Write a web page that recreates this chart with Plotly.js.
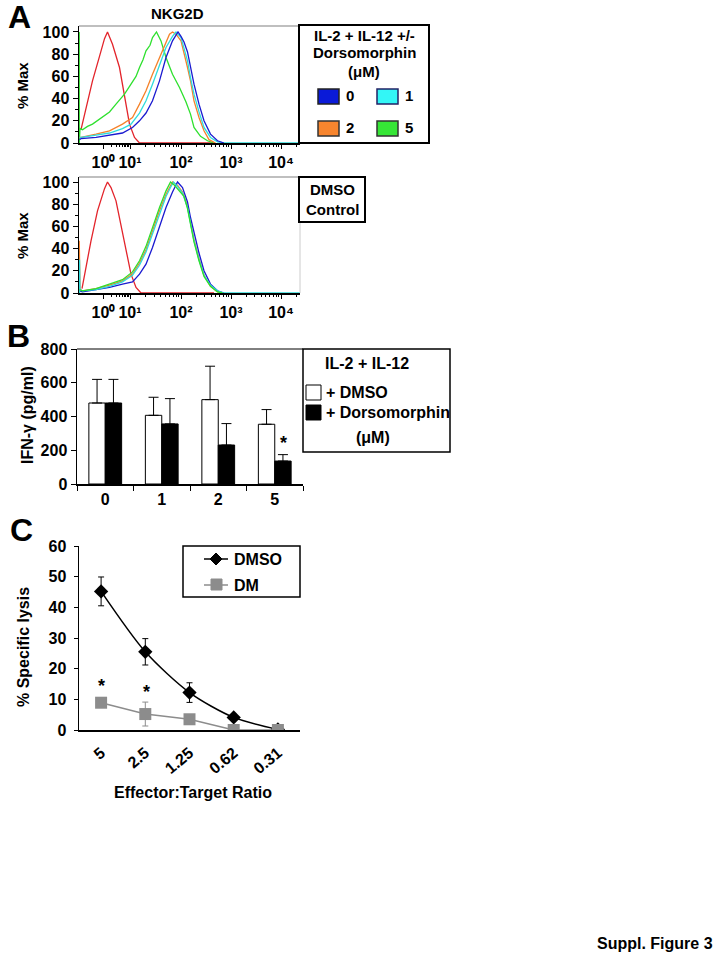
<!DOCTYPE html>
<html>
<head>
<meta charset="utf-8">
<script src="https://cdn.plot.ly/plotly-3.0.1.min.js"></script>
<style>html,body{margin:0;padding:0;background:#fff;}#chart{width:720px;height:960px;}</style>
</head>
<body>
<div id="chart"></div>
<script>
// ---------- Panel A : NKG2D histograms (x in display decades, y in % Max) ----------
const decadeTickVals = [0.45, 0.98, 2, 3, 4];
const decadeTickText = ['10⁰', '10¹', '10²', '10³', '10⁴'];

// Top: IL-2 + IL-12 +/- Dorsomorphin
const topRedX    = [0.00, 0.10, 0.23, 0.37, 0.47, 0.53, 0.63, 0.77, 0.87, 0.97, 1.07, 1.17, 2.66];
const topRedY    = [12, 32, 56, 78, 94, 100, 89, 68, 41, 17, 5, 0, 0];
const topGreenX  = [-0.035, -0.035, -0.02, 0.03, 0.13, 0.23, 0.33, 0.43, 0.57, 0.70, 0.80, 0.87, 1.00, 1.10, 1.17, 1.24, 1.30, 1.38, 1.43, 1.51, 1.60, 1.70, 1.83, 1.97, 2.10, 2.19, 2.26, 2.39, 2.53, 2.66];
const topGreenY  = [100, 0, 13, 12, 15, 17, 20, 23, 28, 35, 40, 44, 53, 60, 68, 75, 83, 88, 95, 100, 92, 77, 62, 50, 37, 26, 14, 6, 2, 0];
const topOrangeX = [-0.03, 0.00, 0.30, 0.57, 0.83, 1.03, 1.17, 1.30, 1.43, 1.57, 1.67, 1.77, 1.83, 1.90, 2.00, 2.06, 2.13, 2.19, 2.26, 2.36, 2.46, 2.56, 2.69];
const topOrangeY = [5, 5, 8, 11, 17, 23, 35, 47, 62, 77, 89, 98, 100, 98, 92, 82, 68, 56, 38, 23, 11, 3, 0];
const topCyanX   = [-0.03, 0.00, 0.30, 0.57, 0.83, 1.00, 1.17, 1.30, 1.43, 1.57, 1.70, 1.83, 1.90, 2.00, 2.06, 2.13, 2.19, 2.26, 2.36, 2.46, 2.59, 2.73, 2.86, 4.38];
const topCyanY   = [5, 5, 7, 9, 13, 17, 27, 38, 53, 71, 86, 96, 100, 95, 85, 74, 59, 44, 28, 14, 5, 1, 0, 0];
const topBlueX   = [-0.03, 0.00, 0.30, 0.57, 0.83, 1.03, 1.17, 1.30, 1.43, 1.57, 1.70, 1.83, 1.94, 2.00, 2.06, 2.13, 2.19, 2.26, 2.36, 2.46, 2.59, 2.73, 2.86];
const topBlueY   = [3, 4, 5, 7, 9, 14, 20, 27, 38, 56, 77, 92, 100, 96, 91, 82, 68, 53, 35, 20, 8, 2, 0];

// Bottom: DMSO control
const botRedX    = [0.02, 0.07, 0.20, 0.33, 0.47, 0.53, 0.60, 0.70, 0.80, 0.90, 1.00, 1.10, 1.20, 2.66];
const botRedY    = [4, 17, 47, 74, 94, 100, 95, 83, 62, 38, 17, 5, 0, 0];
const botGreenX  = [-0.03, 0.03, 0.30, 0.57, 0.83, 1.03, 1.17, 1.30, 1.43, 1.57, 1.70, 1.79, 1.87, 1.97, 2.06, 2.13, 2.19, 2.26, 2.36, 2.46, 2.59, 2.73, 2.83];
const botGreenY  = [3, 2, 4, 8, 12, 19, 29, 42, 59, 77, 92, 100, 97, 92, 87, 76, 61, 46, 29, 15, 6, 1, 0];
const botOrangeX = [-0.035, -0.035, -0.02, 0.03, 0.30, 0.57, 0.83, 1.03, 1.17, 1.30, 1.43, 1.57, 1.70, 1.79, 1.83, 1.93, 2.03, 2.13, 2.19, 2.26, 2.36, 2.46, 2.59, 2.73, 2.86];
const botOrangeY = [0, 47, 3, 2, 4, 7, 11, 17, 27, 39, 56, 74, 89, 97, 100, 97, 91, 78, 63, 48, 31, 16, 6, 1, 0];
const botCyanX   = [-0.03, -0.03, -0.02, 0.03, 0.30, 0.57, 0.83, 1.03, 1.17, 1.30, 1.43, 1.57, 1.70, 1.79, 1.85, 1.93, 2.03, 2.13, 2.19, 2.26, 2.36, 2.46, 2.59, 2.73, 2.86, 4.38];
const botCyanY   = [0, 30, 3, 2, 3, 6, 10, 16, 25, 37, 53, 71, 87, 95, 100, 96, 90, 77, 62, 47, 30, 16, 7, 2, 0, 0];
const botBlueX   = [-0.03, 0.03, 0.30, 0.57, 0.83, 1.03, 1.17, 1.30, 1.43, 1.57, 1.70, 1.83, 1.93, 2.03, 2.13, 2.19, 2.26, 2.36, 2.46, 2.59, 2.73, 2.86];
const botBlueY   = [2, 1, 3, 5, 8, 10, 17, 26, 41, 59, 77, 91, 100, 95, 82, 68, 54, 36, 20, 8, 2, 0];

// ---------- Panel B : IFN-gamma ----------
const doseCats = ['0', '1', '2', '5'];
const ifnDmso = [480, 407, 500, 354];
const ifnDmsoErr = [140, 107, 198, 87];
const ifnDorso = [480, 356, 231, 136];
const ifnDorsoErr = [140, 150, 127, 38];

// ---------- Panel C : Specific lysis ----------
const etRatios = ['5', '2.5', '1.25', '0.62', '0.31'];
const lysisDmso = [45.2, 25.5, 12.2, 4.1, 0.2];
const lysisDmsoErr = [4.7, 4.3, 3.2, 0.8, 0];
const lysisDm = [8.9, 5.2, 3.5, 0, 0];
const lysisDmErr = [0.6, 3.9, 1.4, 0, 0];

// ---------- colours ----------
const cRed = '#e3242b', cGreen = '#2ee02e', cOrange = '#f5822a', cCyan = '#2fdcdc', cBlue = '#1a1ad0';

// ---------- helpers (pixel -> paper) ----------
const W = 720, H = 960;
const PX = p => p / W;
const PY = p => 1 - p / H;
const FONT = 'Liberation Sans, Arial, sans-serif';
const bold = (size, color) => ({family: FONT, size: size, color: color || '#000', weight: 'bold'});

// minor ticks for the flow axis
const minorTicks = [];
for (let k = 2; k <= 9; k++) {
  minorTicks.push(0.45 + 0.53 * Math.log10(k));
  minorTicks.push(0.98 + 1.02 * Math.log10(k));
  minorTicks.push(2 + Math.log10(k));
  minorTicks.push(3 + Math.log10(k));
}
minorTicks.push(4 + Math.log10(2));

function histLine(x, y, color, xa, ya) {
  return {type: 'scatter', mode: 'lines', x: x, y: y, xaxis: xa, yaxis: ya,
          line: {color: color, width: 1.3}, hoverinfo: 'skip', showlegend: false};
}

const traces = [
  histLine(topRedX, topRedY, cRed, 'x', 'y'),
  histLine(topGreenX, topGreenY, cGreen, 'x', 'y'),
  histLine(topOrangeX, topOrangeY, cOrange, 'x', 'y'),
  histLine(topCyanX, topCyanY, cCyan, 'x', 'y'),
  histLine(topBlueX, topBlueY, cBlue, 'x', 'y'),
  histLine(botRedX, botRedY, cRed, 'x2', 'y2'),
  histLine(botOrangeX, botOrangeY, cOrange, 'x2', 'y2'),
  histLine(botBlueX, botBlueY, cBlue, 'x2', 'y2'),
  histLine(botCyanX, botCyanY, cCyan, 'x2', 'y2'),
  histLine(botGreenX, botGreenY, cGreen, 'x2', 'y2'),
  {type: 'bar', x: doseCats, y: ifnDmso, xaxis: 'x3', yaxis: 'y3', name: '+ DMSO',
   marker: {color: '#ffffff', line: {color: '#000', width: 1}},
   error_y: {type: 'data', symmetric: false, array: ifnDmsoErr, arrayminus: [0, 0, 0, 0], color: '#000', thickness: 1, width: 5},
   showlegend: false},
  {type: 'bar', x: doseCats, y: ifnDorso, xaxis: 'x3', yaxis: 'y3', name: '+ Dorsomorphin',
   marker: {color: '#000000', line: {color: '#000', width: 1}},
   error_y: {type: 'data', symmetric: false, array: ifnDorsoErr, arrayminus: [0, 0, 0, 0], color: '#000', thickness: 1, width: 5},
   showlegend: false},
  {type: 'scatter', mode: 'lines+markers', x: etRatios, y: lysisDmso, xaxis: 'x4', yaxis: 'y4', name: 'DMSO',
   line: {color: '#000', width: 1.5, shape: 'spline', smoothing: 0.8},
   marker: {symbol: 'diamond', size: 11, color: '#000'},
   error_y: {type: 'data', array: lysisDmsoErr, color: '#000', thickness: 1, width: 3},
   showlegend: false},
  {type: 'scatter', mode: 'lines+markers', x: etRatios, y: lysisDm, xaxis: 'x4', yaxis: 'y4', name: 'DM',
   line: {color: '#8c8c8c', width: 1.5},
   marker: {symbol: 'square', size: 12, color: '#8c8c8c'},
   error_y: {type: 'data', array: lysisDmErr, color: '#8c8c8c', thickness: 1, width: 3},
   showlegend: false}
];

const flowX = (yAnchor) => ({
  domain: [PX(79), PX(300)], range: [-0.04, 4.38], anchor: yAnchor,
  showline: true, linecolor: '#000', linewidth: 1.5, showgrid: false, zeroline: false,
  ticks: 'outside', ticklen: 4, tickwidth: 1, tickcolor: '#000', tickangle: 0,
  tickmode: 'array', tickvals: decadeTickVals, ticktext: decadeTickText, tickfont: bold(16),
  minor: {tickmode: 'array', tickvals: minorTicks, ticks: 'outside', ticklen: 2.5, tickcolor: '#000', tickwidth: 1}
});
const flowY = (xAnchor, dom, top) => ({
  domain: dom, range: [0, top], anchor: xAnchor,
  showline: true, linecolor: '#000', linewidth: 1.5, showgrid: false, zeroline: false,
  ticks: 'outside', ticklen: 5, tickcolor: '#000', tick0: 0, dtick: 20, tickfont: bold(16),
  minor: {dtick: 10, ticks: 'outside', ticklen: 3, tickcolor: '#000'}
});

const layout = {
  width: W, height: H, margin: {l: 0, r: 0, t: 0, b: 0},
  paper_bgcolor: '#fff', plot_bgcolor: 'rgba(0,0,0,0)',
  showlegend: false, barmode: 'group', bargap: 0.42, bargroupgap: 0,
  font: {family: FONT, color: '#000'},
  xaxis: flowX('y'),
  yaxis: flowY('x', [PY(143), PY(26)], 105.4),
  xaxis2: flowX('y2'),
  yaxis2: flowY('x2', [PY(293), PY(177)], 104.5),
  xaxis3: {domain: [PX(77), PX(303)], anchor: 'y3', type: 'category', range: [-0.5, 3.5],
           showline: true, linecolor: '#000', linewidth: 1.5, showgrid: false, zeroline: false,
           ticks: 'outside', tickson: 'boundaries', ticklen: 5, tickcolor: '#000', tickfont: bold(16)},
  yaxis3: {domain: [PY(484), PY(349)], anchor: 'x3', range: [0, 800], dtick: 200,
           showline: true, linecolor: '#000', linewidth: 1.5, showgrid: false, zeroline: false,
           ticks: 'outside', ticklen: 5, tickcolor: '#000', tickfont: bold(16)},
  xaxis4: {domain: [PX(79), PX(300)], anchor: 'y4', type: 'category', range: [-0.5, 4.5],
           showline: true, linecolor: '#000', linewidth: 1.5, showgrid: false, zeroline: false,
           ticks: '', tickangle: -40, tickfont: bold(16), ticklabelstandoff: 6},
  yaxis4: {domain: [PY(730), PY(546)], anchor: 'x4', range: [0, 60], dtick: 10,
           showline: true, linecolor: '#000', linewidth: 1.5, showgrid: false, zeroline: false,
           ticks: 'outside', ticklen: 4, tickcolor: '#000', tickfont: bold(16), ticklabelstandoff: 4},
  shapes: [],
  annotations: []
};

const S = layout.shapes, A = layout.annotations;
const rect = (x0, y0, x1, y1, fill, lc, lw) => S.push({type: 'rect', xref: 'paper', yref: 'paper',
  x0: PX(x0), x1: PX(x1), y0: PY(y1), y1: PY(y0), fillcolor: fill, line: {color: lc, width: lw}});
const seg = (x0, y0, x1, y1, lc, lw) => S.push({type: 'line', xref: 'paper', yref: 'paper',
  x0: PX(x0), x1: PX(x1), y0: PY(y0), y1: PY(y1), line: {color: lc, width: lw}});
const txt = (text, x, y, size, xanchor, extra) => A.push(Object.assign({text: text, xref: 'paper', yref: 'paper',
  x: PX(x), y: PY(y), xanchor: xanchor || 'center', yanchor: 'middle', showarrow: false, font: bold(size)}, extra || {}));

// Panel A frames and legend
seg(79, 26, 300, 26, '#aaaaaa', 1.5);
seg(79, 177, 300, 177, '#aaaaaa', 1.5);
seg(300, 222, 300, 293, '#cccccc', 1);
rect(299, 25, 429, 143, 'rgba(0,0,0,0)', '#000', 2);
rect(318, 89, 339, 104, '#0a1ad8', '#222', 1.5);
rect(377, 89, 398, 104, '#33f6f6', '#226', 1.5);
rect(318, 121, 339, 136, '#f7852e', '#333', 1.5);
rect(377, 121, 398, 136, '#36e636', '#333', 1.5);
rect(299, 177, 365, 222, 'rgba(0,0,0,0)', '#000', 2);

// Panel B frame and legend
seg(77, 349, 303, 349, '#000', 1);
rect(303, 349, 450, 452, 'rgba(0,0,0,0)', '#000', 1.5);
rect(306, 385, 321, 400, '#fff', '#000', 1);
rect(306, 405, 321, 420, '#000', '#000', 1);

// Panel C legend
rect(183, 546, 300, 597, 'rgba(0,0,0,0)', '#000', 1.5);
seg(204, 559, 228, 559, '#000', 1.5);
S.push({type: 'path', xref: 'paper', yref: 'paper', fillcolor: '#000', line: {color: '#000', width: 1},
  path: `M ${PX(216)} ${PY(553)} L ${PX(222)} ${PY(559)} L ${PX(216)} ${PY(565)} L ${PX(210)} ${PY(559)} Z`});
seg(204, 585, 228, 585, '#8c8c8c', 1.5);
rect(211, 579, 222, 590, '#8c8c8c', '#8c8c8c', 1);

// Text
txt('A', 19, 17, 32);
txt('B', 18, 336, 32);
txt('C', 21, 530, 32);
txt('NKG2D', 177, 13, 15);
txt('% Max', 22, 86, 15, 'center', {textangle: -90});
txt('% Max', 22, 236, 15, 'center', {textangle: -90});
txt('IL-2 + IL-12 +/-', 364, 35, 15);
txt('Dorsomorphin', 364, 53, 15);
txt('(μM)', 364, 72, 15);
txt('0', 344, 96, 15, 'left');
txt('1', 403, 96, 15, 'left');
txt('2', 344, 128, 15, 'left');
txt('5', 403, 128, 15, 'left');
txt('DMSO', 332, 189, 15);
txt('Control', 332, 209, 15);

txt('IFN-γ (pg/ml)', 27, 415, 16, 'center', {textangle: -90});
txt('IL-2 + IL-12', 367, 363, 16);
txt('+ DMSO', 324, 392, 16, 'left');
txt('+ Dorsomorphin', 324, 412, 16, 'left');
txt('(μM)', 373, 437, 16);
txt('*', 283, 443, 18);

txt('% Specific lysis', 23, 647, 16, 'center', {textangle: -90});
txt('Effector:Target Ratio', 193, 792, 16);
txt('DMSO', 232, 559, 16, 'left');
txt('DM', 232, 585, 16, 'left');
txt('*', 101, 686, 18);
txt('*', 146, 692, 18);

txt('Suppl. Figure 3', 655, 943, 16);

Plotly.newPlot('chart', traces, layout, {staticPlot: true, displayModeBar: false});
</script>
</body>
</html>
